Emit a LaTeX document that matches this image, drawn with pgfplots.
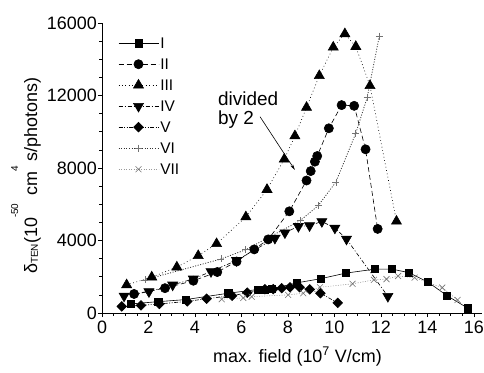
\documentclass[border=0pt]{standalone}
\usepackage{pgfplots}
\pgfplotsset{compat=1.18}
\usetikzlibrary{arrows.meta}
\usepackage{fontspec}
\setmainfont{Liberation Sans}
\begin{document}
\begin{tikzpicture}
\path[use as bounding box] (-102bp,-60bp) rectangle (382bp,313bp);
\begin{axis}[
  at={(0,0)}, anchor=south west,
  scale only axis, width=380bp, height=290bp,
  xmin=0, xmax=16.35, ymin=0, ymax=16000,
  axis x line=bottom, axis y line=left,
  axis line style={-, line width=0.8bp},
  xtick={0,2,...,16}, ytick={0,4000,...,16000},
  minor x tick num=3, minor y tick num=3,
  tick align=outside,
  major tick length=4bp, minor tick length=2.5bp,
  tick style={line width=0.7bp, black},
  scaled ticks=false,
  /pgf/number format/1000 sep={},
  /pgf/number format/assume math mode=true,
  tick label style={font=\fontsize{18}{21}\selectfont, inner sep=1bp},
  xticklabel style={yshift=-3bp},
  clip=false,
  xlabel={max. field (10\textsuperscript{7} V/cm)},
  xlabel style={font=\fontsize{18}{21}\selectfont, at={(axis description cs:0.292,-0.169)}, anchor=base west, inner sep=0pt},
  ylabel={δ\raisebox{-0.05em}{\fontsize{10}{10}\selectfont TEN}(10\raisebox{1.05em}{\fontsize{10}{10}\selectfont -50}\, cm\raisebox{1.05em}{\fontsize{10}{10}\selectfont 4} s/photons)},
  ylabel style={font=\fontsize{18}{21}\selectfont, at={(axis description cs:-0.171,0.474)}, anchor=base, rotate=0, inner sep=0pt},
  legend style={at={(axis description cs:0.034,0.962)}, anchor=north west, draw=none, fill=none,
    font=\fontsize{15.5}{16}\selectfont, row sep=7bp,
    nodes={inner sep=1.5bp, text height=11bp, text depth=0bp}},
  legend cell align=left,
  legend image code/.code={\draw[mark repeat=2,mark phase=2,#1] plot coordinates {(0bp,0bp) (20bp,0bp) (40bp,0bp)};},
  every axis plot/.append style={line width=0.6bp},
]
% I
\addplot[black, solid, mark=square*, mark size=3.6bp, mark options={solid}] coordinates {
(1.23,500)(2.42,626)(3.6,740)(5.43,1090)(6.72,1300)(7.0,1300)(7.30,1330)(8.37,1660)(9.40,1890)(10.49,2200)(11.74,2420)(12.47,2420)(13.20,2230)(14.02,1710)(14.85,950)(15.75,260)};
\addlegendentry{I}
% II
\addplot[black, dash pattern=on 5bp off 3bp, mark=*, mark size=4.6bp, mark options={solid}] coordinates {
(1.38,1050)(2.71,1370)(3.93,1780)(4.96,2260)(5.79,2840)(6.55,3510)(7.15,4060)(8.06,5610)(8.80,7310)(8.98,7830)(9.16,8350)(9.26,8660)(9.76,10190)(10.31,11470)(10.85,11430)(11.34,9030)(11.86,4640)};
\addlegendentry{II}
% III
\addplot[black, dash pattern=on 0.8bp off 2.6bp, mark=triangle*, mark size=5.8bp, mark options={solid}] coordinates {
(1.06,1550)(2.14,1980)(3.22,2530)(4.14,3160)(4.93,3820)(6.19,5300)(7.10,6810)(7.84,8480)(8.30,9770)(8.80,11340)(9.35,13090)(9.95,14660)(10.45,15400)(10.92,14700)(11.53,12540)(12.67,5060)};
\addlegendentry{III}
% IV
\addplot[black, dash pattern=on 4bp off 2bp on 1bp off 2bp, mark=triangle*, mark size=5.8bp, mark options={solid, rotate=180}] coordinates {
(0.95,940)(2.02,1180)(3.04,1550)(3.93,1880)(4.69,2290)(5.79,2900)(7.44,4130)(7.87,4430)(8.45,4780)(8.93,4820)(9.46,5050)(10.02,4690)(10.52,4080)(12.30,920)};
\addlegendentry{IV}
% V
\addplot[black, dash pattern=on 4bp off 1.5bp on 1bp off 1.5bp on 1bp off 1.5bp, mark=square*, mark size=3.4bp, mark options={solid, rotate=45}] coordinates {
(0.85,360)(1.68,420)(2.47,500)(3.67,640)(4.50,790)(5.60,950)(6.25,1120)(7.01,1313)(7.37,1320)(7.73,1370)(8.09,1420)(8.50,1420)(8.94,1300)(9.40,1090)(10.14,560)};
\addlegendentry{V}
% VI
\addplot[black!80, dash pattern=on 1bp off 1.6bp, line width=0.8bp, mark=+, mark size=3.5bp, mark options={solid, black!55, line width=0.6bp}] coordinates {
(1.85,1830)(5.12,2980)(6.18,3490)(8.52,5090)(9.30,5920)(10.06,7220)(10.92,9920)(11.41,11890)(11.93,15270)};
\addlegendentry{VI}
% VII
\addplot[black!40, dash pattern=on 1bp off 1.5bp, mark=x, mark size=4.2bp, mark options={solid, black!55, line width=0.6bp}] coordinates {
(5.15,760)(6.08,830)(6.44,900)(8.01,1000)(8.66,1090)(9.38,1420)(10.78,1610)(11.70,1830)(12.24,1870)(12.74,2040)(13.45,1950)(14.64,1400)(15.30,720)};
\addlegendentry{VII}
\node[anchor=north west, inner sep=0pt, align=left, font=\fontsize{19}{19}\selectfont] at (axis cs:4.99,12190) {divided\\by 2};
\draw[-{Stealth[length=6bp,width=3bp]}, line width=0.6bp] (axis cs:6.80,10830) -- (axis cs:8.30,7890);
\end{axis}
\end{tikzpicture}
\end{document}
